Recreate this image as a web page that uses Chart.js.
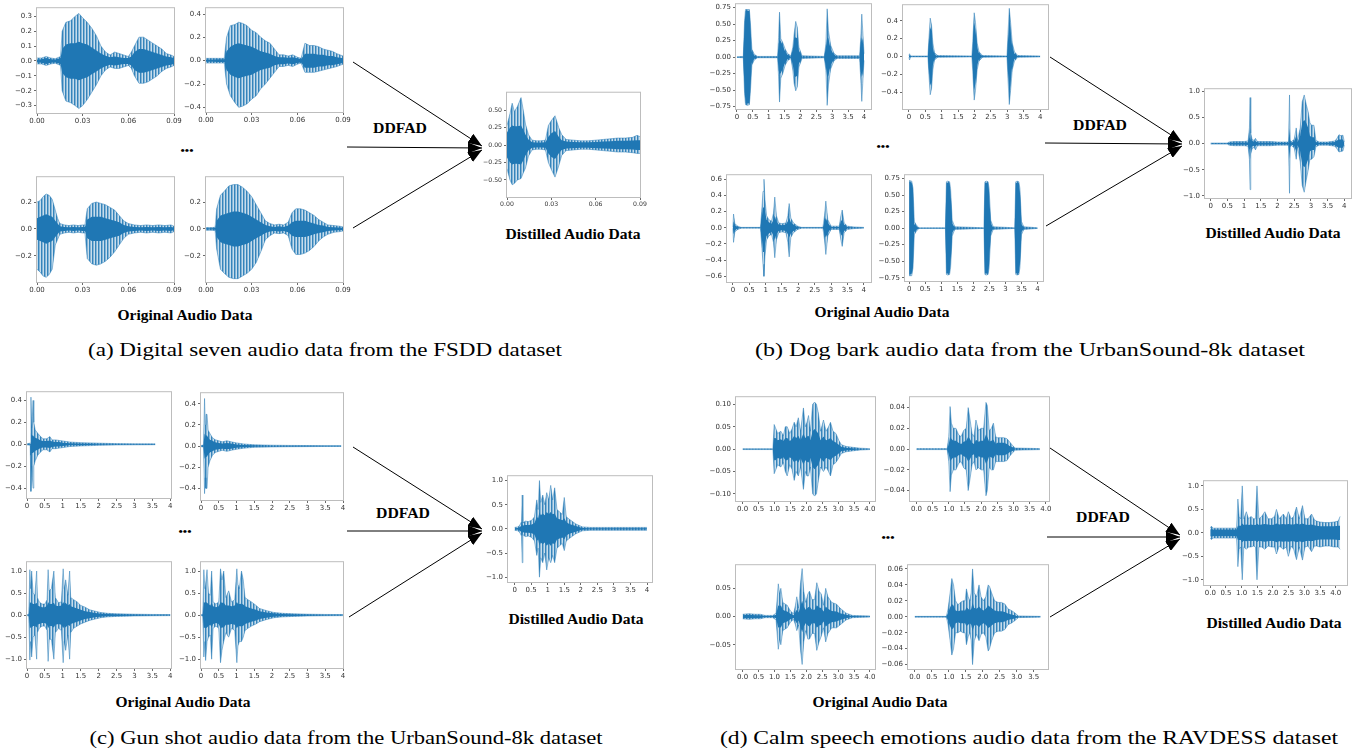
<html>
<head>
<title>DDFAD distilled audio</title>
<script src="https://cdn.jsdelivr.net/npm/chart.js@4.4.0/dist/chart.umd.min.js"></script>
<style>
  body { margin: 0; background: #fff; width: 1369px; height: 751px; position: relative; overflow: hidden; }
  canvas { position: absolute; }
  svg { position: absolute; left: 0; top: 0; }
</style>
</head>
<body>
<svg id="overlay" width="1369" height="751">
  <defs>
    <marker id="ah" viewBox="0 0 14 11" refX="14" refY="5.5" markerWidth="14" markerHeight="11" markerUnits="userSpaceOnUse" orient="auto">
      <path d="M0,0 L14,5.5 L0,11 z" fill="#000"/>
    </marker>
  </defs>
  <g stroke="#000" stroke-width="1" marker-end="url(#ah)">
    <line x1="353" y1="62" x2="482" y2="146"/>
    <line x1="347" y1="147" x2="482" y2="148"/>
    <line x1="353" y1="228" x2="482" y2="150"/>
    <line x1="1050" y1="57" x2="1182" y2="142"/>
    <line x1="1045" y1="143" x2="1182" y2="144"/>
    <line x1="1046" y1="226" x2="1182" y2="146"/>
    <line x1="353" y1="447" x2="482" y2="529"/>
    <line x1="347" y1="531" x2="482" y2="531"/>
    <line x1="349" y1="617" x2="482" y2="533"/>
    <line x1="1050" y1="448" x2="1180" y2="535"/>
    <line x1="1047" y1="537" x2="1180" y2="537"/>
    <line x1="1050" y1="617" x2="1180" y2="539"/>
  </g>
  <g font-family="Liberation Serif" font-weight="bold" fill="#000" text-anchor="middle">
    <text x="400" y="133" font-size="15.5" textLength="54" lengthAdjust="spacingAndGlyphs">DDFAD</text>
    <text x="1100" y="130" font-size="15.5" textLength="54" lengthAdjust="spacingAndGlyphs">DDFAD</text>
    <text x="403" y="518" font-size="15.5" textLength="54" lengthAdjust="spacingAndGlyphs">DDFAD</text>
    <text x="1103" y="522" font-size="15.5" textLength="54" lengthAdjust="spacingAndGlyphs">DDFAD</text>
    <text x="187" y="154" font-size="11" textLength="13" lengthAdjust="spacingAndGlyphs">•••</text>
    <text x="883" y="150" font-size="11" textLength="13" lengthAdjust="spacingAndGlyphs">•••</text>
    <text x="185" y="535" font-size="11" textLength="13" lengthAdjust="spacingAndGlyphs">•••</text>
    <text x="888" y="541" font-size="11" textLength="13" lengthAdjust="spacingAndGlyphs">•••</text>
    <text x="185" y="320" font-size="15.5" textLength="135" lengthAdjust="spacingAndGlyphs">Original Audio Data</text>
    <text x="882" y="317" font-size="15.5" textLength="135" lengthAdjust="spacingAndGlyphs">Original Audio Data</text>
    <text x="183" y="707" font-size="15.5" textLength="135" lengthAdjust="spacingAndGlyphs">Original Audio Data</text>
    <text x="880" y="707" font-size="15.5" textLength="135" lengthAdjust="spacingAndGlyphs">Original Audio Data</text>
    <text x="573" y="239" font-size="15.5" textLength="135" lengthAdjust="spacingAndGlyphs">Distilled Audio Data</text>
    <text x="1273" y="238" font-size="15.5" textLength="135" lengthAdjust="spacingAndGlyphs">Distilled Audio Data</text>
    <text x="576" y="624" font-size="15.5" textLength="135" lengthAdjust="spacingAndGlyphs">Distilled Audio Data</text>
    <text x="1274" y="628" font-size="15.5" textLength="135" lengthAdjust="spacingAndGlyphs">Distilled Audio Data</text>
  </g>
  <g font-family="Liberation Serif" fill="#000" text-anchor="middle" font-size="18">
    <text x="325" y="356" textLength="474" lengthAdjust="spacingAndGlyphs">(a) Digital seven audio data from the FSDD dataset</text>
    <text x="1030" y="356" textLength="550" lengthAdjust="spacingAndGlyphs">(b) Dog bark audio data from the UrbanSound-8k dataset</text>
    <text x="346" y="744" textLength="513" lengthAdjust="spacingAndGlyphs">(c) Gun shot audio data from the UrbanSound-8k dataset</text>
    <text x="1029" y="744" textLength="618" lengthAdjust="spacingAndGlyphs">(d) Calm speech emotions audio data from the RAVDESS dataset</text>
  </g>
</svg>
<script>
// ---- tick values ----
var xTicksA = [0, 0.03, 0.06, 0.09];
var xTicksB = [0, 0.5, 1, 1.5, 2, 2.5, 3, 3.5, 4];
var xTicksD4 = [0, 0.5, 1, 1.5, 2, 2.5, 3, 3.5];
var yTicksA1 = [-0.3, -0.2, -0.1, 0, 0.1, 0.2, 0.3];
var yTicksA2 = [-0.4, -0.2, 0, 0.2, 0.4];
var yTicksA3 = [-0.2, 0, 0.2];
var yTicksA5 = [-0.5, -0.25, 0, 0.25, 0.5];
var yTicksB1 = [-0.75, -0.5, -0.25, 0, 0.25, 0.5, 0.75];
var yTicksB3 = [-0.6, -0.4, -0.2, 0, 0.2, 0.4, 0.6];
var yTicksOne = [-1, -0.5, 0, 0.5, 1];
var yTicksD1 = [-0.1, -0.05, 0, 0.05, 0.1];
var yTicksD2 = [-0.04, -0.02, 0, 0.02, 0.04];
var yTicksD3 = [-0.05, 0, 0.05];
var yTicksD4 = [-0.06, -0.04, -0.02, 0, 0.02, 0.04, 0.06];

// ---- waveform envelopes (time, spike top, spike bottom, dark core) ----
// (a) FSDD digit seven
var a1T = [0, 0.003, 0.006, 0.009, 0.012, 0.0155, 0.0165, 0.019, 0.022, 0.025, 0.0275, 0.030, 0.033, 0.036, 0.039, 0.042, 0.045, 0.048, 0.051, 0.054, 0.057, 0.060, 0.062, 0.064, 0.067, 0.070, 0.073, 0.076, 0.079, 0.082, 0.085, 0.088, 0.09];
var a1Hi = [0.02, 0.02, 0.03, 0.02, 0.015, 0.03, 0.20, 0.26, 0.27, 0.30, 0.32, 0.29, 0.26, 0.22, 0.17, 0.10, 0.06, 0.04, 0.06, 0.05, 0.04, 0.03, 0.06, 0.10, 0.16, 0.16, 0.14, 0.12, 0.10, 0.08, 0.05, 0.04, 0.03];
var a1Lo = [-0.02, -0.02, -0.03, -0.02, -0.015, -0.03, -0.20, -0.27, -0.28, -0.30, -0.32, -0.30, -0.26, -0.21, -0.16, -0.10, -0.06, -0.04, -0.05, -0.05, -0.04, -0.03, -0.05, -0.10, -0.15, -0.15, -0.14, -0.12, -0.10, -0.07, -0.05, -0.04, -0.03];
var a1Core = [0.01, 0.012, 0.02, 0.012, 0.01, 0.02, 0.08, 0.11, 0.12, 0.12, 0.13, 0.12, 0.11, 0.09, 0.07, 0.05, 0.035, 0.025, 0.03, 0.025, 0.02, 0.02, 0.03, 0.06, 0.08, 0.08, 0.07, 0.06, 0.05, 0.04, 0.03, 0.025, 0.02];

var a2T = [0, 0.004, 0.008, 0.012, 0.0135, 0.016, 0.019, 0.0215, 0.024, 0.027, 0.030, 0.033, 0.036, 0.039, 0.042, 0.045, 0.048, 0.051, 0.054, 0.057, 0.060, 0.0625, 0.065, 0.068, 0.071, 0.074, 0.077, 0.080, 0.083, 0.086, 0.09];
var a2Hi = [0.02, 0.02, 0.02, 0.02, 0.20, 0.30, 0.31, 0.33, 0.32, 0.30, 0.26, 0.24, 0.20, 0.17, 0.15, 0.10, 0.05, 0.05, 0.04, 0.05, 0.03, 0.02, 0.15, 0.13, 0.13, 0.12, 0.10, 0.09, 0.08, 0.06, 0.04];
var a2Lo = [-0.02, -0.02, -0.02, -0.02, -0.20, -0.30, -0.36, -0.40, -0.39, -0.37, -0.33, -0.30, -0.24, -0.20, -0.15, -0.10, -0.05, -0.05, -0.04, -0.05, -0.03, -0.02, -0.10, -0.10, -0.10, -0.09, -0.08, -0.07, -0.06, -0.05, -0.03];
var a2Core = [0.01, 0.01, 0.012, 0.012, 0.08, 0.12, 0.14, 0.15, 0.14, 0.13, 0.12, 0.1, 0.08, 0.07, 0.06, 0.04, 0.03, 0.03, 0.025, 0.03, 0.02, 0.015, 0.06, 0.06, 0.06, 0.05, 0.05, 0.04, 0.04, 0.03, 0.02];

var a3T = [0, 0.002, 0.004, 0.006, 0.008, 0.010, 0.012, 0.0135, 0.015, 0.018, 0.021, 0.024, 0.027, 0.030, 0.0315, 0.033, 0.036, 0.039, 0.042, 0.045, 0.048, 0.051, 0.054, 0.057, 0.060, 0.064, 0.068, 0.072, 0.076, 0.080, 0.084, 0.088, 0.09];
var a3Hi = [0.20, 0.21, 0.24, 0.26, 0.25, 0.22, 0.14, 0.08, 0.04, 0.03, 0.025, 0.03, 0.025, 0.03, 0.03, 0.15, 0.19, 0.20, 0.19, 0.18, 0.16, 0.14, 0.10, 0.06, 0.04, 0.03, 0.025, 0.03, 0.025, 0.03, 0.025, 0.03, 0.02];
var a3Lo = [-0.30, -0.32, -0.35, -0.36, -0.34, -0.30, -0.12, -0.08, -0.04, -0.03, -0.025, -0.03, -0.025, -0.03, -0.03, -0.22, -0.26, -0.27, -0.26, -0.24, -0.21, -0.17, -0.12, -0.07, -0.04, -0.03, -0.025, -0.03, -0.025, -0.03, -0.025, -0.03, -0.02];
var a3Core = [0.08, 0.09, 0.10, 0.11, 0.10, 0.09, 0.06, 0.04, 0.02, 0.015, 0.012, 0.015, 0.012, 0.015, 0.015, 0.07, 0.09, 0.09, 0.09, 0.08, 0.07, 0.06, 0.05, 0.03, 0.02, 0.015, 0.012, 0.015, 0.012, 0.015, 0.012, 0.015, 0.01];

var a4T = [0, 0.003, 0.006, 0.007, 0.0095, 0.012, 0.015, 0.018, 0.021, 0.024, 0.027, 0.030, 0.033, 0.036, 0.039, 0.042, 0.045, 0.048, 0.051, 0.054, 0.0565, 0.059, 0.062, 0.065, 0.068, 0.071, 0.074, 0.077, 0.080, 0.084, 0.088, 0.09];
var a4Hi = [0.01, 0.01, 0.012, 0.15, 0.25, 0.28, 0.32, 0.33, 0.33, 0.31, 0.28, 0.24, 0.18, 0.12, 0.06, 0.04, 0.03, 0.035, 0.03, 0.05, 0.12, 0.15, 0.15, 0.14, 0.12, 0.10, 0.07, 0.05, 0.03, 0.025, 0.02, 0.015];
var a4Lo = [-0.01, -0.01, -0.012, -0.15, -0.30, -0.33, -0.36, -0.37, -0.37, -0.35, -0.33, -0.30, -0.25, -0.17, -0.08, -0.05, -0.03, -0.035, -0.03, -0.05, -0.15, -0.19, -0.19, -0.18, -0.16, -0.13, -0.09, -0.06, -0.04, -0.025, -0.02, -0.015];
var a4Core = [0.005, 0.005, 0.006, 0.06, 0.10, 0.11, 0.12, 0.13, 0.13, 0.12, 0.11, 0.09, 0.07, 0.05, 0.03, 0.02, 0.015, 0.02, 0.015, 0.025, 0.05, 0.06, 0.06, 0.06, 0.05, 0.04, 0.03, 0.025, 0.015, 0.012, 0.01, 0.008];

var a5T = [0, 0.002, 0.0035, 0.005, 0.007, 0.0095, 0.011, 0.0125, 0.0145, 0.017, 0.020, 0.023, 0.026, 0.028, 0.030, 0.0325, 0.035, 0.037, 0.040, 0.045, 0.050, 0.055, 0.060, 0.065, 0.070, 0.075, 0.080, 0.085, 0.088, 0.09];
var a5Hi = [0.28, 0.45, 0.60, 0.48, 0.55, 0.68, 0.50, 0.30, 0.15, 0.07, 0.06, 0.06, 0.07, 0.28, 0.35, 0.42, 0.25, 0.15, 0.08, 0.07, 0.06, 0.06, 0.07, 0.08, 0.09, 0.10, 0.10, 0.11, 0.14, 0.12];
var a5Lo = [-0.34, -0.50, -0.57, -0.55, -0.50, -0.48, -0.40, -0.33, -0.16, -0.07, -0.06, -0.06, -0.07, -0.25, -0.35, -0.46, -0.30, -0.15, -0.08, -0.07, -0.06, -0.06, -0.07, -0.08, -0.09, -0.10, -0.10, -0.11, -0.12, -0.12];
var a5Core = [0.18, 0.25, 0.28, 0.27, 0.27, 0.28, 0.22, 0.15, 0.08, 0.04, 0.035, 0.035, 0.04, 0.12, 0.17, 0.20, 0.12, 0.07, 0.05, 0.045, 0.04, 0.04, 0.045, 0.05, 0.055, 0.06, 0.06, 0.065, 0.07, 0.07];

// (b) UrbanSound-8k dog bark
var b1T = [0, 0.2, 0.24, 0.27, 0.33, 0.39, 0.42, 0.47, 0.55, 0.65, 1.28, 1.31, 1.34, 1.38, 1.44, 1.52, 1.60, 1.70, 1.76, 1.80, 1.85, 1.90, 1.95, 2.05, 2.75, 2.80, 2.84, 2.88, 2.95, 3.05, 3.15, 3.86, 3.90, 3.93, 3.96, 4.0];
var b1Hi = [0.005, 0.01, 0.55, 0.72, 0.72, 0.72, 0.55, 0.12, 0.04, 0.01, 0.01, 0.30, 0.68, 0.28, 0.22, 0.12, 0.05, 0.02, 0.15, 0.35, 0.54, 0.45, 0.15, 0.02, 0.01, 0.20, 0.73, 0.40, 0.18, 0.06, 0.02, 0.02, 0.30, 0.65, 0.40, 0.05];
var b1Lo = [-0.005, -0.01, -0.55, -0.72, -0.73, -0.72, -0.55, -0.12, -0.04, -0.01, -0.01, -0.30, -0.68, -0.32, -0.25, -0.12, -0.05, -0.02, -0.20, -0.40, -0.51, -0.45, -0.15, -0.02, -0.01, -0.20, -0.73, -0.42, -0.18, -0.06, -0.02, -0.02, -0.35, -0.67, -0.40, -0.05];
var b1Core = [0.003, 0.005, 0.5, 0.70, 0.70, 0.70, 0.5, 0.08, 0.025, 0.005, 0.005, 0.2, 0.26, 0.24, 0.18, 0.08, 0.03, 0.01, 0.12, 0.28, 0.30, 0.28, 0.10, 0.01, 0.005, 0.15, 0.30, 0.28, 0.12, 0.04, 0.01, 0.01, 0.22, 0.30, 0.25, 0.03];

var b2T = [0, 0.02, 0.05, 0.58, 0.61, 0.65, 0.69, 0.73, 0.78, 0.88, 1.92, 1.95, 1.99, 2.03, 2.08, 2.14, 2.25, 2.99, 3.02, 3.06, 3.10, 3.15, 3.22, 3.32, 4.0];
var b2Hi = [0.01, 0.03, 0.005, 0.005, 0.20, 0.43, 0.35, 0.15, 0.04, 0.01, 0.005, 0.20, 0.49, 0.38, 0.15, 0.05, 0.01, 0.005, 0.25, 0.54, 0.38, 0.15, 0.05, 0.01, 0.005];
var b2Lo = [-0.01, -0.04, -0.005, -0.005, -0.20, -0.43, -0.36, -0.15, -0.04, -0.01, -0.005, -0.20, -0.49, -0.38, -0.15, -0.05, -0.01, -0.005, -0.25, -0.54, -0.38, -0.15, -0.05, -0.01, -0.005];
var b2Core = [0.005, 0.015, 0.003, 0.003, 0.15, 0.33, 0.28, 0.10, 0.02, 0.005, 0.003, 0.15, 0.38, 0.30, 0.10, 0.03, 0.005, 0.003, 0.18, 0.42, 0.30, 0.10, 0.03, 0.005, 0.003];

var b3T = [0, 0.02, 0.06, 0.15, 0.25, 0.84, 0.88, 0.92, 0.95, 0.98, 1.03, 1.10, 1.18, 1.24, 1.28, 1.33, 1.40, 1.50, 1.62, 1.68, 1.72, 1.77, 1.85, 1.98, 2.10, 2.75, 2.80, 2.84, 2.90, 3.00, 3.25, 3.30, 3.34, 3.40, 3.50, 3.70, 4.0];
var b3Hi = [0.005, 0.17, 0.05, 0.02, 0.005, 0.005, 0.20, 0.45, 0.60, 0.35, 0.15, 0.10, 0.08, 0.18, 0.38, 0.15, 0.06, 0.05, 0.06, 0.15, 0.30, 0.12, 0.06, 0.02, 0.005, 0.005, 0.15, 0.33, 0.10, 0.02, 0.02, 0.15, 0.22, 0.06, 0.02, 0.01, 0.005];
var b3Lo = [-0.005, -0.18, -0.05, -0.02, -0.005, -0.005, -0.20, -0.45, -0.60, -0.35, -0.15, -0.10, -0.08, -0.18, -0.37, -0.15, -0.06, -0.05, -0.06, -0.18, -0.36, -0.12, -0.06, -0.02, -0.005, -0.005, -0.15, -0.33, -0.10, -0.02, -0.02, -0.15, -0.23, -0.06, -0.02, -0.01, -0.005];
var b3Core = [0.003, 0.08, 0.03, 0.01, 0.003, 0.003, 0.12, 0.25, 0.30, 0.20, 0.10, 0.07, 0.05, 0.10, 0.15, 0.08, 0.04, 0.03, 0.04, 0.08, 0.12, 0.07, 0.04, 0.01, 0.003, 0.003, 0.08, 0.12, 0.06, 0.01, 0.01, 0.08, 0.10, 0.04, 0.01, 0.005, 0.003];

var b4T = [0, 0.02, 0.08, 0.12, 0.16, 0.22, 0.30, 1.13, 1.16, 1.20, 1.26, 1.29, 1.34, 1.42, 2.33, 2.36, 2.40, 2.46, 2.49, 2.54, 2.62, 3.29, 3.32, 3.36, 3.42, 3.45, 3.50, 3.57, 4.0];
var b4Hi = [0.72, 0.72, 0.71, 0.60, 0.10, 0.05, 0.005, 0.005, 0.70, 0.71, 0.70, 0.60, 0.12, 0.02, 0.005, 0.70, 0.71, 0.70, 0.60, 0.12, 0.02, 0.005, 0.70, 0.71, 0.70, 0.60, 0.10, 0.02, 0.005];
var b4Lo = [-0.72, -0.72, -0.72, -0.60, -0.10, -0.05, -0.005, -0.005, -0.70, -0.71, -0.70, -0.60, -0.12, -0.02, -0.005, -0.70, -0.71, -0.70, -0.60, -0.12, -0.02, -0.005, -0.70, -0.71, -0.70, -0.60, -0.10, -0.02, -0.005];
var b4Core = [0.70, 0.70, 0.69, 0.55, 0.06, 0.03, 0.003, 0.003, 0.68, 0.69, 0.68, 0.55, 0.07, 0.01, 0.003, 0.68, 0.69, 0.68, 0.55, 0.07, 0.01, 0.003, 0.68, 0.69, 0.68, 0.55, 0.06, 0.01, 0.003];

var b5T = [0, 0.5, 0.55, 0.7, 0.85, 1.0, 1.12, 1.16, 1.18, 1.20, 1.24, 1.30, 1.34, 1.40, 1.60, 1.80, 2.00, 2.20, 2.33, 2.36, 2.38, 2.42, 2.50, 2.56, 2.60, 2.68, 2.74, 2.80, 2.86, 2.92, 2.97, 3.02, 3.09, 3.15, 3.25, 3.50, 3.72, 3.78, 3.84, 3.90, 3.96, 4.0];
var b5Hi = [0.01, 0.01, 0.03, 0.04, 0.04, 0.04, 0.05, 0.30, 0.88, 0.20, 0.08, 0.06, 0.10, 0.04, 0.04, 0.04, 0.03, 0.03, 0.03, 0.93, 0.06, 0.04, 0.08, 0.30, 0.06, 0.30, 0.80, 0.93, 0.75, 0.60, 0.40, 0.35, 0.35, 0.06, 0.03, 0.03, 0.05, 0.10, 0.17, 0.15, 0.16, 0.03];
var b5Lo = [-0.01, -0.01, -0.03, -0.04, -0.04, -0.04, -0.05, -0.30, -0.88, -0.20, -0.10, -0.07, -0.12, -0.04, -0.04, -0.04, -0.03, -0.03, -0.03, -0.95, -0.06, -0.04, -0.08, -0.30, -0.06, -0.35, -0.80, -0.93, -0.70, -0.50, -0.30, -0.30, -0.25, -0.06, -0.03, -0.03, -0.05, -0.10, -0.16, -0.15, -0.14, -0.03];
var b5Core = [0.005, 0.005, 0.015, 0.02, 0.02, 0.02, 0.025, 0.12, 0.30, 0.08, 0.05, 0.04, 0.05, 0.02, 0.02, 0.02, 0.015, 0.015, 0.015, 0.30, 0.03, 0.02, 0.04, 0.15, 0.03, 0.15, 0.40, 0.45, 0.40, 0.30, 0.15, 0.12, 0.12, 0.03, 0.015, 0.015, 0.03, 0.06, 0.08, 0.08, 0.08, 0.015];

// (c) UrbanSound-8k gun shot
var c1T = [0, 0.09, 0.11, 0.13, 0.15, 0.17, 0.19, 0.23, 0.30, 0.38, 0.45, 0.55, 0.64, 0.70, 0.80, 0.90, 1.00, 1.20, 1.50, 2.00, 2.50, 3.00, 3.58];
var c1Hi = [0.005, 0.01, 0.43, 0.15, 0.25, 0.40, 0.20, 0.13, 0.10, 0.07, 0.05, 0.05, 0.07, 0.04, 0.04, 0.035, 0.03, 0.02, 0.015, 0.01, 0.006, 0.005, 0.004];
var c1Lo = [-0.005, -0.01, -0.43, -0.20, -0.30, -0.40, -0.20, -0.15, -0.10, -0.07, -0.05, -0.05, -0.07, -0.04, -0.04, -0.035, -0.03, -0.02, -0.015, -0.01, -0.006, -0.005, -0.004];
var c1Core = [0.003, 0.005, 0.10, 0.08, 0.08, 0.08, 0.07, 0.06, 0.05, 0.035, 0.03, 0.03, 0.035, 0.025, 0.02, 0.02, 0.015, 0.01, 0.008, 0.005, 0.003, 0.003, 0.002];

var c2T = [0, 0.07, 0.10, 0.12, 0.14, 0.17, 0.20, 0.25, 0.32, 0.40, 0.50, 0.60, 0.73, 0.85, 1.00, 1.20, 1.50, 2.00, 2.50, 3.00, 3.50, 3.95];
var c2Hi = [0.005, 0.01, 0.45, 0.20, 0.30, 0.30, 0.15, 0.12, 0.08, 0.06, 0.05, 0.04, 0.05, 0.04, 0.03, 0.02, 0.012, 0.008, 0.006, 0.005, 0.004, 0.004];
var c2Lo = [-0.005, -0.01, -0.45, -0.30, -0.40, -0.40, -0.20, -0.14, -0.09, -0.06, -0.05, -0.04, -0.05, -0.04, -0.03, -0.02, -0.012, -0.008, -0.006, -0.005, -0.004, -0.004];
var c2Core = [0.003, 0.005, 0.12, 0.10, 0.10, 0.10, 0.08, 0.06, 0.05, 0.035, 0.03, 0.025, 0.03, 0.025, 0.015, 0.01, 0.007, 0.004, 0.003, 0.003, 0.002, 0.002];

var c3T = [0, 0.05, 0.08, 0.10, 0.13, 0.17, 0.22, 0.27, 0.29, 0.34, 0.42, 0.50, 0.56, 0.59, 0.62, 0.68, 0.75, 0.79, 0.88, 0.96, 1.01, 1.04, 1.08, 1.14, 1.19, 1.22, 1.30, 1.40, 1.50, 1.62, 1.75, 1.90, 2.05, 2.25, 2.50, 3.00, 3.50, 4.0];
var c3Hi = [0.01, 0.02, 1.03, 0.60, 1.00, 0.50, 0.45, 1.00, 0.40, 0.30, 0.25, 0.25, 0.35, 1.03, 0.55, 0.60, 1.00, 0.40, 0.28, 0.30, 1.05, 0.60, 0.80, 0.45, 1.00, 0.40, 0.35, 0.30, 0.22, 0.18, 0.12, 0.09, 0.06, 0.04, 0.03, 0.02, 0.015, 0.012];
var c3Lo = [-0.01, -0.02, -1.02, -0.60, -0.95, -0.50, -0.45, -1.00, -0.40, -0.30, -0.25, -0.25, -0.35, -1.05, -0.55, -0.55, -1.00, -0.40, -0.30, -0.35, -1.08, -0.60, -0.80, -0.45, -1.00, -0.40, -0.30, -0.25, -0.20, -0.16, -0.12, -0.09, -0.06, -0.04, -0.03, -0.02, -0.015, -0.012];
var c3Core = [0.005, 0.01, 0.30, 0.28, 0.28, 0.25, 0.25, 0.28, 0.22, 0.20, 0.18, 0.18, 0.22, 0.30, 0.25, 0.25, 0.28, 0.22, 0.20, 0.22, 0.30, 0.25, 0.28, 0.22, 0.25, 0.20, 0.18, 0.15, 0.12, 0.09, 0.07, 0.05, 0.035, 0.025, 0.018, 0.012, 0.008, 0.006];

var c4T = [0, 0.05, 0.08, 0.11, 0.13, 0.17, 0.21, 0.26, 0.30, 0.34, 0.42, 0.50, 0.55, 0.59, 0.64, 0.70, 0.78, 0.86, 0.95, 1.01, 1.04, 1.08, 1.14, 1.19, 1.24, 1.32, 1.42, 1.55, 1.65, 1.85, 2.05, 2.30, 2.60, 3.00, 3.50, 4.0];
var c4Hi = [0.01, 0.02, 1.03, 0.60, 0.70, 1.03, 0.50, 0.45, 1.00, 0.30, 0.25, 0.30, 1.05, 0.80, 1.00, 0.40, 0.55, 0.30, 0.35, 1.05, 0.70, 0.60, 1.00, 0.80, 0.40, 0.35, 0.30, 0.22, 0.15, 0.10, 0.06, 0.04, 0.03, 0.02, 0.015, 0.012];
var c4Lo = [-0.01, -0.02, -0.95, -0.60, -1.03, -0.60, -0.50, -0.45, -1.00, -0.30, -0.25, -0.30, -1.08, -0.80, -0.60, -0.40, -0.50, -0.30, -0.35, -1.08, -0.70, -0.60, -0.60, -0.50, -0.35, -0.30, -0.25, -0.20, -0.15, -0.10, -0.06, -0.04, -0.03, -0.02, -0.015, -0.012];
var c4Core = [0.005, 0.01, 0.30, 0.28, 0.30, 0.28, 0.25, 0.22, 0.28, 0.20, 0.18, 0.20, 0.30, 0.28, 0.28, 0.22, 0.22, 0.20, 0.22, 0.30, 0.26, 0.25, 0.26, 0.24, 0.20, 0.18, 0.15, 0.12, 0.09, 0.06, 0.04, 0.025, 0.018, 0.012, 0.008, 0.006];

var c5T = [0, 0.10, 0.16, 0.21, 0.23, 0.25, 0.32, 0.42, 0.52, 0.60, 0.67, 0.71, 0.75, 0.79, 0.85, 0.91, 0.97, 1.03, 1.09, 1.15, 1.21, 1.28, 1.36, 1.44, 1.50, 1.56, 1.65, 1.75, 1.85, 1.95, 2.05, 2.30, 2.60, 3.00, 3.40, 3.80, 4.0];
var c5Hi = [0.03, 0.04, 0.08, 0.15, 0.70, 0.12, 0.16, 0.15, 0.18, 0.25, 0.60, 0.40, 1.00, 0.55, 0.70, 0.50, 0.75, 0.60, 0.90, 0.60, 0.85, 0.40, 0.35, 0.30, 0.65, 0.25, 0.20, 0.15, 0.10, 0.07, 0.04, 0.03, 0.03, 0.03, 0.03, 0.03, 0.03];
var c5Lo = [-0.03, -0.04, -0.08, -0.15, -0.70, -0.12, -0.16, -0.15, -0.18, -0.25, -0.55, -0.40, -1.00, -0.60, -0.70, -0.50, -0.85, -0.60, -0.70, -0.55, -0.70, -0.40, -0.35, -0.30, -0.45, -0.25, -0.20, -0.15, -0.10, -0.07, -0.04, -0.03, -0.03, -0.03, -0.03, -0.03, -0.03];
var c5Core = [0.015, 0.02, 0.04, 0.07, 0.15, 0.07, 0.08, 0.08, 0.09, 0.12, 0.25, 0.22, 0.35, 0.28, 0.32, 0.28, 0.35, 0.30, 0.35, 0.30, 0.32, 0.22, 0.20, 0.18, 0.22, 0.14, 0.10, 0.08, 0.06, 0.04, 0.02, 0.015, 0.015, 0.015, 0.015, 0.015, 0.015];

// (d) RAVDESS calm speech
var d1T = [0, 0.95, 0.99, 1.03, 1.10, 1.20, 1.28, 1.34, 1.40, 1.48, 1.55, 1.62, 1.68, 1.75, 1.82, 1.91, 1.97, 2.02, 2.07, 2.13, 2.20, 2.26, 2.32, 2.38, 2.45, 2.54, 2.62, 2.70, 2.76, 2.84, 2.93, 3.02, 3.10, 3.25, 3.45, 3.70, 4.0];
var d1Hi = [0.001, 0.001, 0.055, 0.048, 0.035, 0.04, 0.03, 0.05, 0.05, 0.035, 0.045, 0.06, 0.05, 0.07, 0.04, 0.092, 0.05, 0.06, 0.075, 0.04, 0.10, 0.105, 0.10, 0.08, 0.04, 0.065, 0.04, 0.05, 0.06, 0.04, 0.035, 0.02, 0.01, 0.006, 0.004, 0.002, 0.001];
var d1Lo = [-0.001, -0.001, -0.055, -0.048, -0.035, -0.04, -0.03, -0.05, -0.06, -0.035, -0.045, -0.07, -0.05, -0.06, -0.04, -0.09, -0.05, -0.06, -0.06, -0.04, -0.10, -0.105, -0.10, -0.07, -0.04, -0.05, -0.04, -0.05, -0.06, -0.035, -0.03, -0.02, -0.01, -0.006, -0.004, -0.002, -0.001];
var d1Core = [0.0005, 0.0005, 0.025, 0.025, 0.02, 0.022, 0.018, 0.025, 0.025, 0.018, 0.022, 0.03, 0.025, 0.03, 0.02, 0.035, 0.025, 0.028, 0.03, 0.02, 0.04, 0.045, 0.04, 0.035, 0.02, 0.028, 0.02, 0.022, 0.025, 0.018, 0.015, 0.01, 0.005, 0.003, 0.002, 0.001, 0.0005];

var d2T = [0, 0.95, 1.00, 1.04, 1.08, 1.14, 1.22, 1.30, 1.38, 1.46, 1.54, 1.60, 1.65, 1.72, 1.78, 1.84, 1.92, 2.00, 2.08, 2.15, 2.19, 2.25, 2.32, 2.38, 2.45, 2.50, 2.60, 2.70, 2.80, 2.88, 2.96, 3.05, 3.82];
var d2Hi = [0.0005, 0.0005, 0.012, 0.041, 0.025, 0.02, 0.02, 0.014, 0.012, 0.018, 0.02, 0.040, 0.03, 0.015, 0.012, 0.028, 0.018, 0.02, 0.02, 0.045, 0.042, 0.018, 0.02, 0.025, 0.012, 0.011, 0.011, 0.011, 0.01, 0.007, 0.004, 0.001, 0.0005];
var d2Lo = [-0.0005, -0.0005, -0.012, -0.041, -0.025, -0.02, -0.02, -0.014, -0.012, -0.018, -0.02, -0.040, -0.03, -0.015, -0.012, -0.02, -0.018, -0.02, -0.02, -0.045, -0.040, -0.018, -0.02, -0.02, -0.012, -0.012, -0.012, -0.012, -0.011, -0.007, -0.004, -0.001, -0.0005];
var d2Core = [0.0002, 0.0002, 0.005, 0.012, 0.01, 0.008, 0.008, 0.006, 0.005, 0.007, 0.008, 0.012, 0.01, 0.006, 0.005, 0.009, 0.007, 0.008, 0.008, 0.014, 0.012, 0.007, 0.008, 0.009, 0.005, 0.006, 0.006, 0.006, 0.005, 0.003, 0.002, 0.0005, 0.0002];

var d3T = [0, 0.20, 0.40, 0.55, 0.70, 0.95, 1.05, 1.12, 1.16, 1.20, 1.26, 1.34, 1.40, 1.50, 1.60, 1.66, 1.70, 1.76, 1.82, 1.87, 1.92, 1.98, 2.05, 2.10, 2.18, 2.26, 2.33, 2.40, 2.47, 2.54, 2.61, 2.68, 2.80, 2.95, 3.06, 3.25, 3.45, 4.0];
var d3Hi = [0.004, 0.005, 0.004, 0.004, 0.002, 0.002, 0.006, 0.058, 0.04, 0.050, 0.025, 0.022, 0.02, 0.01, 0.005, 0.02, 0.035, 0.015, 0.06, 0.085, 0.045, 0.025, 0.04, 0.045, 0.03, 0.03, 0.06, 0.045, 0.04, 0.02, 0.05, 0.035, 0.025, 0.022, 0.015, 0.006, 0.002, 0.001];
var d3Lo = [-0.004, -0.005, -0.004, -0.004, -0.002, -0.002, -0.006, -0.058, -0.04, -0.050, -0.025, -0.022, -0.02, -0.01, -0.005, -0.015, -0.025, -0.015, -0.06, -0.085, -0.045, -0.025, -0.04, -0.04, -0.03, -0.03, -0.06, -0.045, -0.035, -0.02, -0.045, -0.03, -0.02, -0.02, -0.015, -0.006, -0.002, -0.001];
var d3Core = [0.0025, 0.003, 0.0025, 0.0025, 0.001, 0.001, 0.003, 0.02, 0.018, 0.02, 0.012, 0.01, 0.009, 0.005, 0.0025, 0.008, 0.012, 0.007, 0.02, 0.028, 0.018, 0.012, 0.016, 0.018, 0.012, 0.012, 0.02, 0.016, 0.015, 0.009, 0.018, 0.014, 0.01, 0.009, 0.006, 0.003, 0.001, 0.0005];

var d4T = [0, 0.93, 0.98, 1.04, 1.09, 1.14, 1.20, 1.27, 1.34, 1.42, 1.48, 1.52, 1.57, 1.62, 1.66, 1.70, 1.75, 1.82, 1.89, 1.95, 2.02, 2.09, 2.16, 2.20, 2.26, 2.35, 2.45, 2.55, 2.65, 2.74, 2.84, 2.94, 3.05, 3.70];
var d4Hi = [0.0005, 0.0005, 0.01, 0.03, 0.048, 0.04, 0.02, 0.015, 0.018, 0.02, 0.02, 0.035, 0.025, 0.02, 0.03, 0.06, 0.03, 0.025, 0.04, 0.025, 0.02, 0.025, 0.04, 0.038, 0.03, 0.02, 0.018, 0.018, 0.016, 0.01, 0.008, 0.005, 0.001, 0.0005];
var d4Lo = [-0.0005, -0.0005, -0.01, -0.03, -0.048, -0.04, -0.02, -0.02, -0.018, -0.02, -0.02, -0.035, -0.025, -0.02, -0.03, -0.06, -0.03, -0.022, -0.03, -0.022, -0.02, -0.025, -0.043, -0.04, -0.03, -0.02, -0.018, -0.018, -0.016, -0.01, -0.008, -0.005, -0.001, -0.0005];
var d4Core = [0.0002, 0.0002, 0.005, 0.012, 0.016, 0.014, 0.008, 0.007, 0.008, 0.008, 0.008, 0.012, 0.01, 0.008, 0.01, 0.018, 0.011, 0.01, 0.013, 0.01, 0.008, 0.01, 0.014, 0.013, 0.011, 0.008, 0.007, 0.007, 0.006, 0.004, 0.003, 0.002, 0.0005, 0.0002];

var d5T = [0, 0.03, 0.10, 0.30, 0.50, 0.70, 0.84, 0.88, 0.92, 0.97, 1.02, 1.07, 1.15, 1.22, 1.30, 1.38, 1.44, 1.49, 1.55, 1.64, 1.74, 1.84, 1.95, 2.05, 2.11, 2.20, 2.33, 2.42, 2.49, 2.58, 2.66, 2.75, 2.84, 2.94, 3.02, 3.12, 3.23, 3.32, 3.39, 3.50, 3.65, 3.80, 3.95, 4.08, 4.14];
var d5Hi = [0.10, 0.14, 0.10, 0.10, 0.10, 0.10, 0.10, 0.72, 0.35, 0.30, 1.00, 0.30, 0.45, 0.30, 0.35, 0.30, 0.30, 1.00, 0.30, 0.35, 0.45, 0.30, 0.30, 0.35, 0.50, 0.30, 0.40, 0.30, 0.45, 0.30, 0.35, 0.55, 0.30, 0.58, 0.30, 0.30, 0.40, 0.28, 0.25, 0.23, 0.22, 0.22, 0.23, 0.25, 0.35];
var d5Lo = [-0.11, -0.14, -0.11, -0.11, -0.11, -0.11, -0.11, -0.72, -0.35, -0.30, -1.00, -0.30, -0.35, -0.30, -0.30, -0.28, -0.30, -1.00, -0.30, -0.30, -0.35, -0.28, -0.30, -0.30, -0.45, -0.28, -0.35, -0.30, -0.50, -0.28, -0.35, -0.57, -0.30, -0.58, -0.30, -0.28, -0.40, -0.28, -0.28, -0.30, -0.28, -0.28, -0.30, -0.30, -0.35];
var d5Core = [0.07, 0.08, 0.07, 0.07, 0.07, 0.07, 0.07, 0.15, 0.15, 0.15, 0.20, 0.17, 0.18, 0.17, 0.18, 0.17, 0.17, 0.20, 0.17, 0.18, 0.19, 0.18, 0.17, 0.18, 0.20, 0.18, 0.19, 0.18, 0.19, 0.18, 0.18, 0.20, 0.18, 0.20, 0.18, 0.17, 0.18, 0.16, 0.15, 0.14, 0.14, 0.14, 0.14, 0.15, 0.15];

// ---- plot boxes on the page: [left, top, right, bottom] of each axes area ----
var panels = [
  { box: [37, 6, 174, 113],    x: [0, 0.09], y: [-0.35, 0.355],  t: a1T, hi: a1Hi, lo: a1Lo, core: a1Core, xt: xTicksA, xd: 2, yt: yTicksA1, yd: 1, fs: 7 },
  { box: [206, 6, 343, 112],   x: [0, 0.09], y: [-0.44, 0.45],   t: a2T, hi: a2Hi, lo: a2Lo, core: a2Core, xt: xTicksA, xd: 2, yt: yTicksA2, yd: 1, fs: 7 },
  { box: [37, 175, 174, 282],  x: [0, 0.09], y: [-0.395, 0.385], t: a3T, hi: a3Hi, lo: a3Lo, core: a3Core, xt: xTicksA, xd: 2, yt: yTicksA3, yd: 1, fs: 7 },
  { box: [206, 175, 343, 282], x: [0, 0.09], y: [-0.395, 0.385], t: a4T, hi: a4Hi, lo: a4Lo, core: a4Core, xt: xTicksA, xd: 2, yt: yTicksA3, yd: 1, fs: 7 },
  { box: [507, 91, 640, 197],  x: [0, 0.09], y: [-0.745, 0.75],  t: a5T, hi: a5Hi, lo: a5Lo, core: a5Core, xt: xTicksA, xd: 2, yt: yTicksA5, yd: 2, fs: 6.2 },

  { box: [736, 2, 871, 109],   x: [-0.03, 4.22], y: [-0.785, 0.8], t: b1T, hi: b1Hi, lo: b1Lo, core: b1Core, xt: xTicksB, xd: null, yt: yTicksB1, yd: 2, fs: 7 },
  { box: [903, 3, 1048, 109],  x: [-0.18, 4.24], y: [-0.59, 0.575], t: b2T, hi: b2Hi, lo: b2Lo, core: b2Core, xt: xTicksB, xd: null, yt: yTicksA2, yd: 1, fs: 7 },
  { box: [727, 173, 871, 282], x: [-0.18, 4.22], y: [-0.67, 0.65], t: b3T, hi: b3Hi, lo: b3Lo, core: b3Core, xt: xTicksB, xd: null, yt: yTicksB3, yd: 1, fs: 7 },
  { box: [905, 173, 1043, 281], x: [-0.13, 4.17], y: [-0.8, 0.8],  t: b4T, hi: b4Hi, lo: b4Lo, core: b4Core, xt: xTicksB, xd: null, yt: yTicksB1, yd: 2, fs: 7 },
  { box: [1205, 87, 1351, 198], x: [-0.17, 4.2], y: [-1.04, 1.04], t: b5T, hi: b5Hi, lo: b5Lo, core: b5Core, xt: xTicksB, xd: null, yt: yTicksOne, yd: 1, fs: 7 },

  { box: [27, 390, 171, 498],  x: [0, 4.02], y: [-0.49, 0.475], t: c1T, hi: c1Hi, lo: c1Lo, core: c1Core, xt: xTicksB, xd: null, yt: yTicksA2, yd: 1, fs: 7 },
  { box: [201, 391, 343, 500], x: [0, 4.0],  y: [-0.51, 0.5],   t: c2T, hi: c2Hi, lo: c2Lo, core: c2Core, xt: xTicksB, xd: null, yt: yTicksA2, yd: 1, fs: 7 },
  { box: [27, 560, 171, 668],  x: [0, 4.02], y: [-1.2, 1.2],    t: c3T, hi: c3Hi, lo: c3Lo, core: c3Core, xt: xTicksB, xd: null, yt: yTicksOne, yd: 1, fs: 7 },
  { box: [201, 560, 343, 668], x: [0, 4.0],  y: [-1.2, 1.2],    t: c4T, hi: c4Hi, lo: c4Lo, core: c4Core, xt: xTicksB, xd: null, yt: yTicksOne, yd: 1, fs: 7 },
  { box: [508, 474, 652, 582], x: [-0.2, 4.15], y: [-1.1, 1.09], t: c5T, hi: c5Hi, lo: c5Lo, core: c5Core, xt: xTicksB, xd: null, yt: yTicksOne, yd: 1, fs: 7 },

  { box: [736, 395, 875, 501], x: [-0.21, 4.16], y: [-0.116, 0.116], t: d1T, hi: d1Hi, lo: d1Lo, core: d1Core, xt: xTicksB, xd: 1, yt: yTicksD1, yd: 2, fs: 7 },
  { box: [910, 395, 1049, 501], x: [-0.2, 4.1],  y: [-0.05, 0.05],   t: d2T, hi: d2Hi, lo: d2Lo, core: d2Core, xt: xTicksB, xd: 1, yt: yTicksD2, yd: 2, fs: 7 },
  { box: [736, 563, 875, 669], x: [-0.21, 4.16], y: [-0.093, 0.091], t: d3T, hi: d3Hi, lo: d3Lo, core: d3Core, xt: xTicksB, xd: 1, yt: yTicksD3, yd: 2, fs: 7 },
  { box: [908, 563, 1048, 669], x: [-0.2, 3.92], y: [-0.0655, 0.0647], t: d4T, hi: d4Hi, lo: d4Lo, core: d4Core, xt: xTicksD4, xd: 1, yt: yTicksD4, yd: 2, fs: 7 },
  { box: [1204, 479, 1347, 585], x: [-0.2, 4.36], y: [-1.11, 1.1],   t: d5T, hi: d5Hi, lo: d5Lo, core: d5Core, xt: xTicksB, xd: 1, yt: yTicksOne, yd: 1, fs: 7 }
];

var BLUE = '#1f77b4';
var LIGHT = 'rgba(31,119,180,0.6)';

// thin vertical stripes, so the spike zone reads like many dense waveform strokes
function spikePattern() {
  var c = document.createElement('canvas');
  c.width = 3; c.height = 4;
  var g = c.getContext('2d');
  g.fillStyle = 'rgba(31,119,180,0.9)'; g.fillRect(0, 0, 1, 4);
  g.fillStyle = 'rgba(31,119,180,0.55)'; g.fillRect(1, 0, 1, 4);
  g.fillStyle = 'rgba(31,119,180,0.25)'; g.fillRect(2, 0, 1, 4);
  return g.createPattern(c, 'repeat');
}

function fmt(v, d) {
  var s = d == null ? String(Math.abs(v)) : Math.abs(v).toFixed(d);
  return (v < -1e-9 ? '\u2212' : '') + s;
}

function pts(t, v, sign) {
  return t.map(function (x, i) { return { x: x, y: sign * v[i] }; });
}

// matplotlib style frame around the axes
var frame = {
  id: 'frame',
  afterDatasetsDraw: function (chart) {
    var a = chart.chartArea, c = chart.ctx;
    c.save();
    c.strokeStyle = '#bdbdbd';
    c.lineWidth = 1;
    c.strokeRect(a.left - 0.5, a.top - 0.5, a.right - a.left + 1, a.bottom - a.top + 1);
    c.restore();
  }
};

function makeChart(p) {
  var yW = 32, xH = 16, pt = 4, pr = 14;
  var w = p.box[2] - p.box[0], h = p.box[3] - p.box[1];
  var cv = document.createElement('canvas');
  cv.width = yW + w + pr;
  cv.height = pt + h + xH;
  cv.style.left = (p.box[0] - yW) + 'px';
  cv.style.top = (p.box[1] - pt) + 'px';
  cv.style.width = cv.width + 'px';
  cv.style.height = cv.height + 'px';
  document.body.appendChild(cv);

  var tickFont = { family: 'DejaVu Sans', size: p.fs };
  var grid = { display: true, drawOnChartArea: false, drawTicks: true, tickLength: 3, color: '#444', lineWidth: 0.8 };

  new Chart(cv, {
    type: 'line',
    data: {
      datasets: [
        { data: pts(p.t, p.core, 1), fill: '+1', backgroundColor: BLUE, borderColor: BLUE, borderWidth: 0 },
        { data: pts(p.t, p.core, -1), fill: false, borderColor: BLUE, borderWidth: 0 },
        { data: pts(p.t, p.hi, 1), fill: '+1', backgroundColor: spikePattern(), borderColor: LIGHT, borderWidth: 0.8 },
        { data: pts(p.t, p.lo, 1), fill: false, borderColor: LIGHT, borderWidth: 0.8 }
      ]
    },
    options: {
      responsive: false,
      animation: false,
      devicePixelRatio: 1,
      events: [],
      elements: { point: { radius: 0 }, line: { tension: 0 } },
      layout: { autoPadding: false, padding: { top: pt, right: pr, left: 0, bottom: 0 } },
      plugins: { legend: { display: false }, tooltip: { enabled: false } },
      scales: {
        x: {
          type: 'linear', min: p.x[0], max: p.x[1],
          afterFit: function (s) { s.height = xH; },
          afterBuildTicks: function (s) { s.ticks = p.xt.map(function (v) { return { value: v }; }); },
          ticks: { font: tickFont, color: '#333', padding: 1, maxRotation: 0, autoSkip: false,
                   callback: function (v) { return fmt(v, p.xd); } },
          grid: grid,
          border: { display: false }
        },
        y: {
          type: 'linear', min: p.y[0], max: p.y[1],
          afterFit: function (s) { s.width = yW; },
          afterBuildTicks: function (s) { s.ticks = p.yt.map(function (v) { return { value: v }; }); },
          ticks: { font: tickFont, color: '#333', padding: 2, autoSkip: false,
                   callback: function (v) { return fmt(v, p.yd); } },
          grid: grid,
          border: { display: false }
        }
      }
    },
    plugins: [frame]
  });
}

panels.forEach(makeChart);
</script>
</body>
</html>
